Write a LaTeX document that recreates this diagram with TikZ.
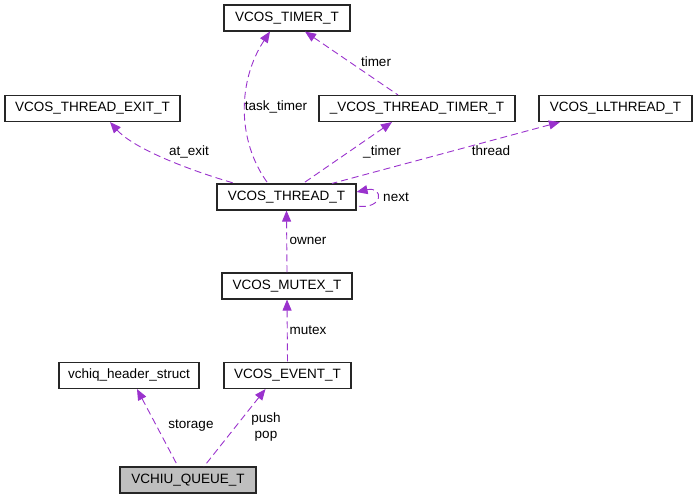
\documentclass[tikz,border=0pt]{standalone}
\usepackage{fontspec}
\setmainfont{Liberation Sans}
\usetikzlibrary{arrows.meta}
\definecolor{relpurple}{HTML}{9A32CD}
\definecolor{focusgray}{HTML}{BFBFBF}

\begin{document}
\begin{tikzpicture}[
  x=1pt,y=-1pt,
  >={Triangle[length=11pt,width=9pt]},
  every node/.style={font=\fontsize{13.5}{16}\selectfont},
  cls/.style={draw=black!85,line width=1.1pt,fill=white,minimum height=26pt,inner sep=0pt},
  rel/.style={<-,relpurple,dashed,dash pattern=on 7pt off 4pt,line width=0.9pt},
  lbl/.style={inner sep=0pt,align=center}
]
\useasboundingbox (0,0) rectangle (694,499);
% classes
\node[cls,minimum width=126pt] (timer) at (287,18) {VCOS\_TIMER\_T};
\node[cls,minimum width=175pt] (exit) at (92.5,108.5) {VCOS\_THREAD\_EXIT\_T};
\node[cls,minimum width=196pt] (thtimer) at (417,108.5) {\_VCOS\_THREAD\_TIMER\_T};
\node[cls,minimum width=153pt] (llthread) at (615.5,108.5) {VCOS\_LLTHREAD\_T};
\node[cls,minimum width=139pt] (thread) at (286.5,197) {VCOS\_THREAD\_T};
\node[cls,minimum width=130pt] (mutex) at (287,286) {VCOS\_MUTEX\_T};
\node[cls,minimum width=140pt] (header) at (129,375.5) {vchiq\_header\_struct};
\node[cls,minimum width=127pt] (event) at (287.5,375.5) {VCOS\_EVENT\_T};
\node[cls,minimum width=136pt,fill=focusgray] (queue) at (188,480) {VCHIU\_QUEUE\_T};
% members
\draw[rel] ([xshift=-17pt]timer.south) .. controls (238,80) and (236,140) .. ([xshift=-18.5pt]thread.north);
\draw[rel] ([xshift=18pt]timer.south) -- ([xshift=-19pt]thtimer.north);
\draw[rel] ([xshift=17.5pt]exit.south) .. controls (135,150) and (195,172) .. ([xshift=-51.5pt]thread.north);
\draw[rel] ([xshift=-25pt]thtimer.south) -- ([xshift=16.5pt]thread.north);
\draw[rel] ([xshift=-55.5pt]llthread.south) -- ([xshift=45.5pt]thread.north);
\draw[rel] ([yshift=5pt]thread.east) .. controls (384,186) and (384,210) .. ([yshift=-9pt]thread.east);
\draw[rel] (thread.south) -- (mutex.north);
\draw[rel] (mutex.south) -- (event.north);
\draw[rel] ([xshift=8pt]header.south) -- ([xshift=-10pt]queue.north);
\draw[rel] ([xshift=-22pt]event.south) -- ([xshift=16pt]queue.north);
% labels
\node[lbl] (ltask) at (276,107) {task\_timer};
\node[lbl] (ltimer) at (376,62) {timer};
\node[lbl] (lexit) at (189,152) {at\_exit};
\node[lbl] (lthtimer) at (382,152) {\_timer};
\node[lbl] (lthread) at (491,151) {thread};
\node[lbl] (lnext) at (396,197) {next};
\node[lbl] (lowner) at (308,241) {owner};
\node[lbl] (lmutex) at (308,330) {mutex};
\node[lbl] (lstorage) at (191,426) {storage};
\node[lbl] (lpush) at (266,427) {push\\pop};
\end{tikzpicture}
\end{document}
